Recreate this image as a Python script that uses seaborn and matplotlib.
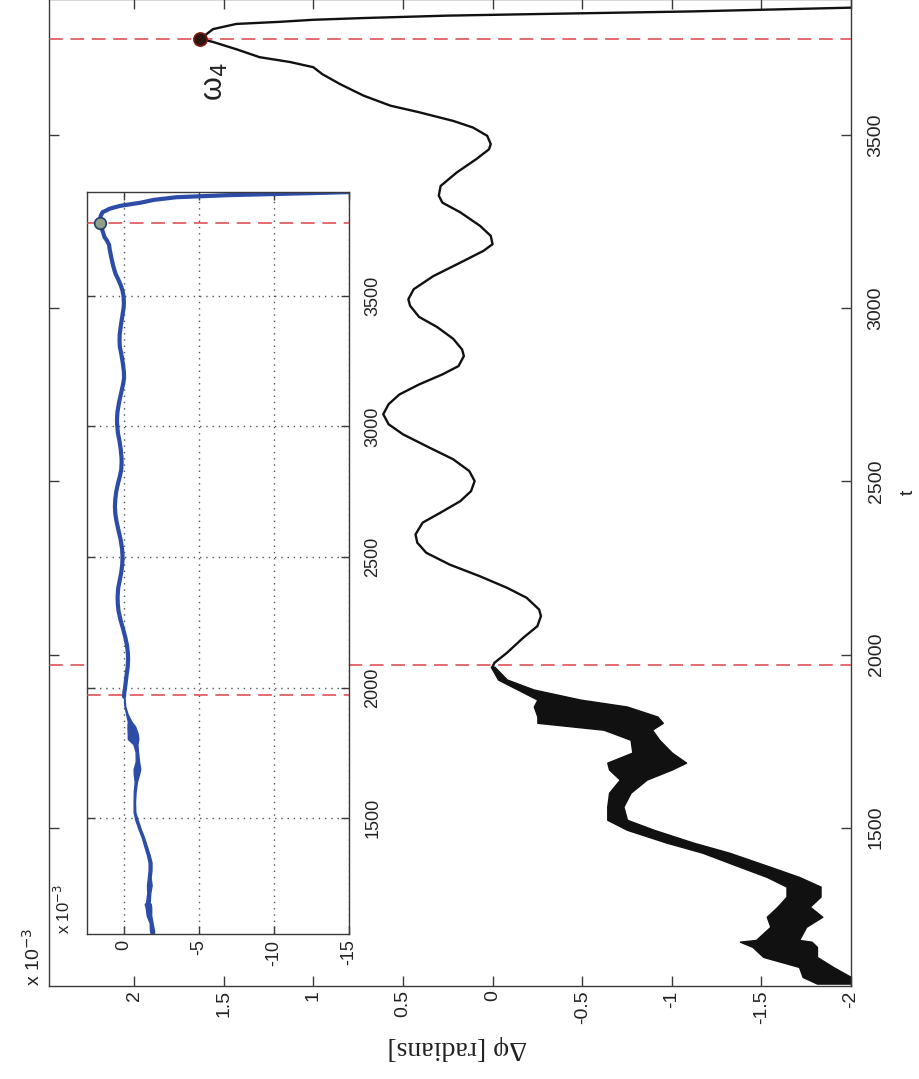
import matplotlib
matplotlib.use("Agg")
import matplotlib.pyplot as plt
import seaborn as sns

# ---- phase-difference trace, Δφ in units of 1e-3 rad ----
# noisy early part, drawn as an envelope (upper / lower Δφ at each t)
t_noisy = [1050, 1069, 1098, 1127, 1156, 1171, 1176, 1214, 1243, 1272, 1301,
           1330, 1358, 1387, 1428, 1457, 1494, 1523, 1561, 1601, 1639, 1668,
           1688, 1717, 1754, 1783, 1803, 1821, 1850, 1870, 1899, 1928, 1965]
dphi_noisy_hi = [-1.81, -1.73, -1.71, -1.51, -1.45, -1.38, -1.47, -1.55, -1.53,
                 -1.59, -1.64, -1.64, -1.53, -1.38, -1.17, -0.97, -0.75, -0.64,
                 -0.64, -0.65, -0.71, -0.65, -0.64, -0.78, -0.77, -0.62, -0.25,
                 -0.25, -0.23, -0.25, -0.14, -0.03, 0.01]
dphi_noisy_lo = [-2.00, -2.00, -1.90, -1.81, -1.81, -1.78, -1.71, -1.75, -1.84,
                 -1.77, -1.83, -1.83, -1.71, -1.55, -1.32, -1.12, -0.90, -0.75,
                 -0.73, -0.77, -0.86, -1.00, -1.08, -1.00, -0.93, -0.89, -0.95,
                 -0.92, -0.75, -0.49, -0.23, -0.08, -0.01]

# smooth oscillating part and the final drop
t_smooth = [1965, 1976, 2005, 2048, 2082, 2111, 2130, 2164, 2193, 2226, 2260,
            2294, 2323, 2347, 2381, 2410, 2443, 2472, 2501, 2530, 2564, 2597,
            2636, 2665, 2694, 2723, 2751, 2780, 2809, 2833, 2862, 2881, 2912,
            2946, 2975, 3007, 3026, 3055, 3093, 3137, 3166, 3185, 3209, 3238,
            3277, 3305, 3325, 3353, 3392, 3431, 3459, 3474, 3498, 3522, 3541,
            3566, 3585, 3614, 3647, 3676, 3696, 3711, 3725, 3748, 3769, 3778,
            3806, 3821, 3827, 3833, 3838, 3845, 3850, 3857, 3868, 3878, 3886,
            3893, 3899]
dphi_smooth = [0.00, -0.01, -0.08, -0.17, -0.25, -0.27, -0.26, -0.19, -0.08,
               0.07, 0.24, 0.37, 0.42, 0.43, 0.39, 0.29, 0.18, 0.12, 0.10, 0.13,
               0.22, 0.35, 0.50, 0.58, 0.61, 0.58, 0.52, 0.41, 0.28, 0.19, 0.16,
               0.17, 0.22, 0.31, 0.41, 0.46, 0.47, 0.44, 0.33, 0.16, 0.05, 0.00,
               0.01, 0.07, 0.18, 0.28, 0.30, 0.29, 0.20, 0.09, 0.02, 0.01, 0.03,
               0.11, 0.22, 0.41, 0.57, 0.72, 0.85, 0.95, 1.00, 1.13, 1.30, 1.43,
               1.56, 1.63, 1.56, 1.43, 1.19, 1.00, 0.72, 0.25, -0.30, -1.10,
               -2.00, -3.50, -7.00, -12.00, -16.00]

# event times (dashed markers) and the ω4 point
event_t = [1970, 3778]
omega4_t = 3778
omega4_dphi = 1.63

main_dphi_ticks = [2, 1.5, 1, 0.5, 0, -0.5, -1, -1.5, -2]
main_dphi_labels = ["2", "1.5", "1", "0.5", "0", "-0.5", "-1", "-1.5", "-2"]
t_ticks = [1500, 2000, 2500, 3000, 3500]
t_labels = ["1500", "2000", "2500", "3000", "3500"]
inset_dphi_ticks = [0, -5, -10, -15]
inset_dphi_labels = ["0", "-5", "-10", "-15"]

sns.set_theme(style="ticks")
plt.rcParams["font.family"] = ["Liberation Sans", "DejaVu Sans"]
plt.rcParams["axes.unicode_minus"] = False
plt.rcParams["mathtext.fontset"] = "dejavusans"

W, H = 920, 1079
fig = plt.figure(figsize=(W / 100, H / 100), dpi=100)
fig.patch.set_facecolor("white")


def box(left, top, right, bottom):
    return [left / W, 1 - bottom / H, (right - left) / W, (bottom - top) / H]


ax = fig.add_axes(box(49, -1, 851, 986))
axi = fig.add_axes(box(87, 192, 349, 934))

RED = "#dd4448"
SPINE = "#3a3a3a"


def draw_trace(a, color, lw):
    a.fill_betweenx(t_noisy, dphi_noisy_lo, dphi_noisy_hi, color=color,
                    edgecolor=color, lw=1.0, zorder=2)
    sns.lineplot(x=dphi_smooth, y=t_smooth, sort=False, estimator=None,
                 color=color, lw=lw, ax=a, zorder=2)


def style_axes(a, size, tlen, xpad, ypad):
    a.tick_params(direction="in", length=tlen, width=1, colors=SPINE,
                  labelcolor="#222222", top=True, bottom=True, left=True,
                  right=True, labeltop=False, labelbottom=True,
                  labelleft=False, labelright=True, labelsize=size)
    a.tick_params(axis="x", labelrotation=90, pad=xpad)
    a.tick_params(axis="y", labelrotation=90, pad=ypad)
    for lbl in a.get_yticklabels():
        lbl.set_va("center")
    for s in a.spines.values():
        s.set_color(SPINE)
        s.set_linewidth(1.0)
        s.set_visible(True)
    a.set_xlabel("")
    a.set_ylabel("")


# ---- main panel ----
draw_trace(ax, "#111111", 1.7)
for tt in event_t:
    ax.axhline(tt, color=RED, lw=1.1, dashes=(9, 5), zorder=3)
sns.scatterplot(x=[omega4_dphi], y=[omega4_t], ax=ax, s=90, color="#2b1510",
                edgecolor="#7a1a10", linewidth=1.2, zorder=5)
ax.text(1.55, 3655, "ω$_4$", rotation=90, ha="center", va="center",
        fontsize=22, color="#222222")
ax.set_xlim(2.475, -2.0)
ax.set_ylim(1043, 3893)
ax.set_xticks(main_dphi_ticks, main_dphi_labels)
ax.set_yticks(t_ticks, t_labels)
style_axes(ax, 14, 7, 3, 12)

ax.set_xlabel("Δφ [radians]", fontfamily=["Liberation Serif", "DejaVu Serif"],
              fontsize=20, rotation=180, color="#222222")
ax.xaxis.set_label_coords(0.509, -0.05)
ax.yaxis.set_label_position("right")
ax.set_ylabel("t", fontsize=14, rotation=90, color="#222222")
ax.yaxis.set_label_coords(1.061, 0.5)
ax.text(-0.006, 0.0, "x 10$^{-3}$", transform=ax.transAxes, rotation=90,
        ha="right", va="bottom", fontsize=14, color="#222222")

# ---- inset: same trace over the full Δφ range ----
axi.set_facecolor("white")
draw_trace(axi, "#2c4ca8", 3.0)
for tt in event_t:
    axi.axhline(tt, color=RED, lw=1.1, dashes=(9, 5), zorder=3)
sns.scatterplot(x=[omega4_dphi], y=[omega4_t], ax=axi, s=70, color="#8fa08a",
                edgecolor="#233a6a", linewidth=1.2, zorder=5)
axi.set_xlim(2.47, -15.0)
axi.set_ylim(1056, 3898)
axi.set_xticks(inset_dphi_ticks, inset_dphi_labels)
axi.set_yticks(t_ticks, t_labels)
axi.grid(True, color="#555555", lw=1.0, linestyle=(0, (1, 3.5)))
style_axes(axi, 13, 6, 4, 11)
axi.text(-0.053, 0.0, "x 10$^{-3}$", transform=axi.transAxes, rotation=90,
         ha="right", va="bottom", fontsize=12, color="#222222")

fig.savefig("out.png", dpi=100, facecolor="white")
